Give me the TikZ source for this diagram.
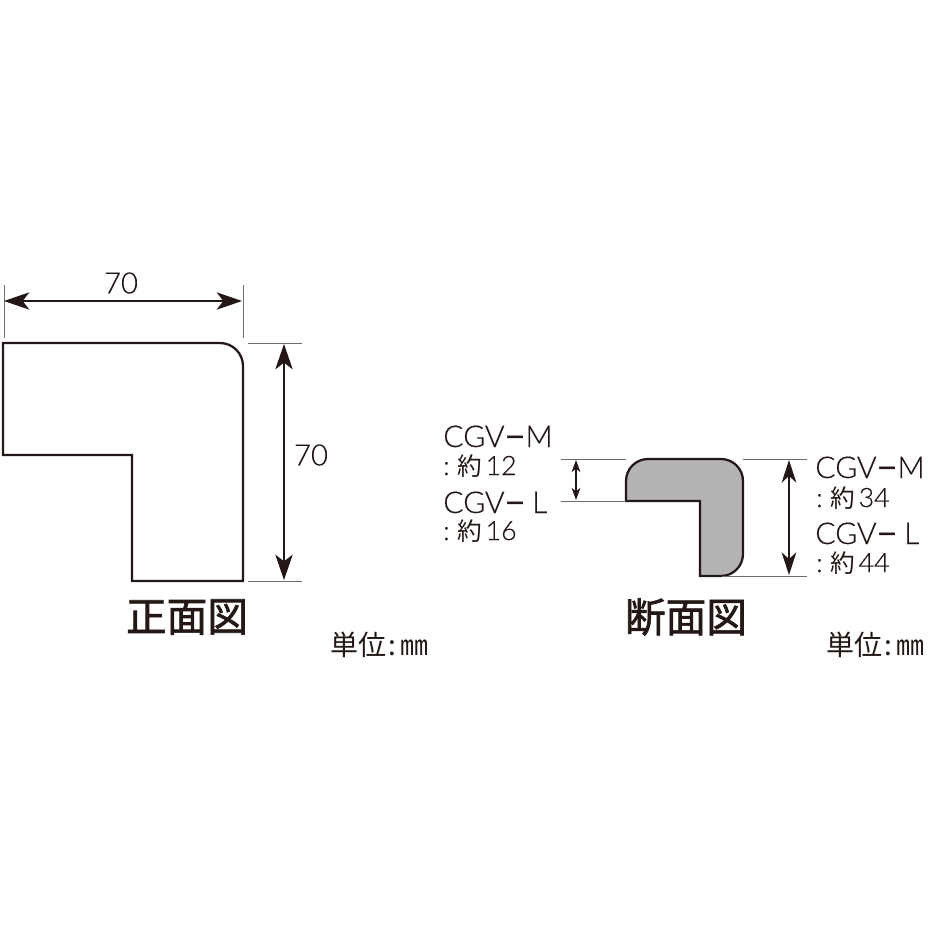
\documentclass[tikz,border=0pt]{standalone}
\usepackage{fontspec}
\usetikzlibrary{arrows.meta}
\setmainfont{Open Sans}
\newfontfamily\jpfont{Noto Sans CJK JP}
\newfontfamily\jptitle[FakeBold=1.6]{Noto Sans CJK JP}
\newfontfamily\latinlight[UprightFont=* Light,FakeBold=0.4]{Lato}
\newfontfamily\dashfont[FakeBold=1.2]{Lato}
\definecolor{ink}{HTML}{231815}
\definecolor{extgray}{HTML}{6E6E6E}
\definecolor{sectfill}{HTML}{B3B3B3}
\newcommand{\longdash}{\scalebox{1.2}[1]{\dashfont −}}
\newcommand{\sizepart}[2]{{\fontsize{20}{20}\selectfont\latinlight :}\kern6pt{\jpfont #1}\kern2.5pt{\fontsize{20}{20}\selectfont\latinlight #2}}
\tikzset{
  x=0.75pt,y=-0.75pt,
  outline/.style={draw=ink,line width=1.7pt,line join=miter},
  extline/.style={draw=extgray,line width=0.65pt},
  dimbig/.style={draw=ink,line width=1.2pt,{Stealth[length=19pt,width=13pt,inset=5pt]}-{Stealth[length=19pt,width=13pt,inset=5pt]}},
  dimtall/.style={draw=ink,line width=1pt,{Stealth[length=17pt,width=11pt,inset=5pt]}-{Stealth[length=17pt,width=11pt,inset=5pt]}},
  dimsmall/.style={draw=ink,line width=0.8pt,{Stealth[length=9pt,width=6.5pt,inset=2.5pt]}-{Stealth[length=9pt,width=6.5pt,inset=2.5pt]}},
  lbl/.style={inner sep=0pt,anchor=base west,text=ink,text height=16pt,text depth=0pt,font=\fontsize{22.5}{22.5}\selectfont\latinlight},
  szlbl/.style={inner sep=0pt,anchor=base west,text=ink,text height=15pt,text depth=1pt,font=\fontsize{18.5}{18.5}\selectfont},
  jlbl/.style={inner sep=0pt,anchor=base west,text=ink,font=\fontsize{21}{21}\selectfont\jpfont},
  numlbl/.style={inner sep=0pt,anchor=center,text=ink,font=\fontsize{22}{22}\selectfont\latinlight},
  title/.style={inner sep=0pt,anchor=center,text=ink,font=\fontsize{30.5}{30.5}\selectfont\jptitle},
}
\begin{document}
\begin{tikzpicture}
\useasboundingbox (0,0) rectangle (928,928);
% front view
\draw[outline] (3,343) [rounded corners=17.25pt] -- (243,343) [sharp corners] -- (243,581) -- (132,581) -- (132,455) -- (3,455) -- cycle;
% front dims
\coordinate (ea1) at (4,285); \coordinate (ea2) at (4,338);
\coordinate (eb1) at (243,285); \coordinate (eb2) at (243,338);
\coordinate (ec1) at (248,343); \coordinate (ec2) at (302,343);
\coordinate (ed1) at (248,581); \coordinate (ed2) at (302,581);
\draw[extline] (ea1)--(ea2); \draw[extline] (eb1)--(eb2);
\draw[extline] (ec1)--(ec2); \draw[extline] (ed1)--(ed2);
\coordinate (wl) at (4,301); \coordinate (wr) at (242,301);
\coordinate (ht) at (284,344); \coordinate (hb) at (284,580);
\draw[dimbig] (wl)--(wr);
\draw[dimbig] (ht)--(hb);
\node[numlbl] (w70) at (121,283) {70};
\node[numlbl] (h70) at (311,455) {70};
\node[title] (ftitle) at (187,617) {正面図};
\node[jlbl] (funit) at (330,655) {単位\kern2pt:\kern3pt㎜};
% section view
\draw[outline,fill=sectfill] (626,501) [rounded corners=16.5pt] -- (626,459) -- (743,459) -- (743,576) [sharp corners] -- (700,576) -- (700,501) -- cycle;
\coordinate (sa1) at (561,459); \coordinate (sa2) at (626,459);
\coordinate (sb1) at (561,501); \coordinate (sb2) at (626,501);
\coordinate (sc1) at (743,459); \coordinate (sc2) at (807,459);
\coordinate (sd1) at (722,576); \coordinate (sd2) at (807,576);
\draw[extline] (sa1)--(sa2); \draw[extline] (sb1)--(sb2);
\draw[extline] (sc1)--(sc2); \draw[extline] (sd1)--(sd2);
\coordinate (st) at (576,460); \coordinate (sb) at (576,500);
\coordinate (bt) at (789,460); \coordinate (bb) at (789,575);
\draw[dimsmall] (st)--(sb);
\draw[dimtall] (bt)--(bb);
\node[lbl] (l1) at (443,447) {CGV\longdash M};
\node[szlbl] (l2) at (443,475) {\sizepart{約}{12}};
\node[lbl] (l3) at (443,513) {CGV\longdash\kern5pt L};
\node[szlbl] (l4) at (443,540) {\sizepart{約}{16}};
\node[lbl] (r1) at (815,478) {CGV\longdash M};
\node[szlbl] (r2) at (816,507) {\sizepart{約}{34}};
\node[lbl] (r3) at (815,544) {CGV\longdash\kern5pt L};
\node[szlbl] (r4) at (816,572) {\sizepart{約}{44}};
\node[title] (stitle) at (686,617) {断面図};
\node[jlbl] (sunit) at (826,655) {単位\kern2pt:\kern3pt㎜};
\end{tikzpicture}
\end{document}
